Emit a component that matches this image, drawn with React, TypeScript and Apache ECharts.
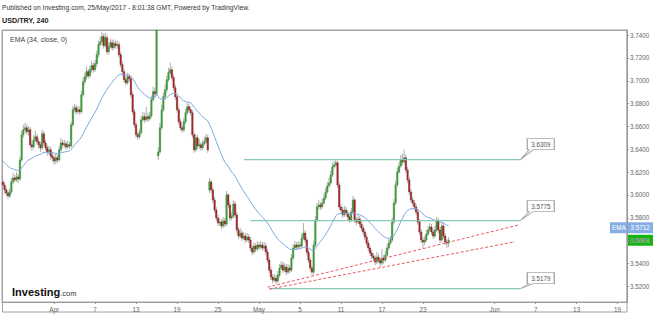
import React, { useEffect, useRef } from "react";
import * as echarts from "echarts";

// ---- Data (USD/TRY, 4h candles) ----
const opens = [
  3.6114, 3.6087, 3.6044, 3.6017, 3.5991, 3.6026, 3.6114, 3.6149, 3.6132, 3.6158,
  3.6140, 3.6307, 3.6527, 3.6571, 3.6588, 3.6553, 3.6571, 3.6439, 3.6421, 3.6483,
  3.6509, 3.6465, 3.6439, 3.6413, 3.6535, 3.6456, 3.6413, 3.6377, 3.6395, 3.6342,
  3.6325, 3.6298, 3.6325, 3.6307, 3.6395, 3.6456, 3.6439, 3.6448, 3.6421, 3.6439,
  3.6430, 3.6615, 3.6746, 3.6764, 3.6729, 3.6746, 3.6729, 3.6878, 3.6992, 3.7036,
  3.7080, 3.7045, 3.7097, 3.7133, 3.7097, 3.7150, 3.7229, 3.7317, 3.7343, 3.7387,
  3.7308, 3.7378, 3.7255, 3.7299, 3.7334, 3.7291, 3.7326, 3.7308, 3.7317, 3.7229,
  3.7141, 3.7080, 3.7010, 3.6983, 3.7036, 3.7018, 3.6878, 3.6729, 3.6615, 3.6527,
  3.6509, 3.6544, 3.6658, 3.6685, 3.6658, 3.6685, 3.6667, 3.6694, 3.6834, 3.6904,
  3.6887, 3.6342, 3.6377, 3.6588, 3.6746, 3.6860, 3.6922, 3.7010, 3.7071, 3.7097,
  3.7027, 3.6939, 3.6860, 3.6746, 3.6641, 3.6588, 3.6571, 3.6641, 3.6720, 3.6773,
  3.6746, 3.6720, 3.6527, 3.6395, 3.6500, 3.6430, 3.6439, 3.6413, 3.6448, 3.6465,
  3.6500, 3.6044, 3.6114, 3.6044, 3.5956, 3.5868, 3.5798, 3.5754, 3.5763, 3.5728,
  3.5772, 3.5745, 3.6000, 3.5912, 3.5798, 3.5816, 3.5921, 3.5825, 3.5693, 3.5640,
  3.5666, 3.5622, 3.5640, 3.5605, 3.5631, 3.5605, 3.5535, 3.5499, 3.5552, 3.5526,
  3.5561, 3.5543, 3.5561, 3.5535, 3.5552, 3.5499, 3.5429, 3.5341, 3.5280, 3.5254,
  3.5271, 3.5245, 3.5297, 3.5359, 3.5385, 3.5341, 3.5368, 3.5324, 3.5359, 3.5341,
  3.5447, 3.5535, 3.5561, 3.5543, 3.5561, 3.5552, 3.5622, 3.5666, 3.5605, 3.5499,
  3.5429, 3.5359, 3.5324, 3.5561, 3.5781, 3.5895, 3.5912, 3.5895, 3.5929, 3.5974,
  3.6026, 3.6079, 3.6105, 3.6175, 3.6246, 3.6263, 3.6281, 3.6087, 3.5895, 3.5868,
  3.5825, 3.5868, 3.5842, 3.5807, 3.5781, 3.5851, 3.5956, 3.5781, 3.5763, 3.5789,
  3.5745, 3.5710, 3.5675, 3.5631, 3.5578, 3.5535, 3.5491, 3.5464, 3.5447, 3.5412,
  3.5455, 3.5429, 3.5403, 3.5447, 3.5429, 3.5473, 3.5535, 3.5578, 3.5605, 3.5763,
  3.5929, 3.6087, 3.6202, 3.6254, 3.6307, 3.6290, 3.6325, 3.6219, 3.6132, 3.6026,
  3.5956, 3.5929, 3.5895, 3.5851, 3.5763, 3.5675, 3.5605, 3.5587, 3.5605, 3.5657,
  3.5693, 3.5719, 3.5675, 3.5640, 3.5693, 3.5772, 3.5693, 3.5605, 3.5728, 3.5640,
  3.5587, 3.5578,
];

const closes = [
  3.6087, 3.6044, 3.6017, 3.5991, 3.6026, 3.6114, 3.6149, 3.6132, 3.6158, 3.6140,
  3.6307, 3.6527, 3.6571, 3.6588, 3.6553, 3.6571, 3.6439, 3.6421, 3.6483, 3.6509,
  3.6465, 3.6439, 3.6413, 3.6535, 3.6456, 3.6413, 3.6377, 3.6395, 3.6342, 3.6325,
  3.6298, 3.6325, 3.6307, 3.6395, 3.6456, 3.6439, 3.6448, 3.6421, 3.6439, 3.6430,
  3.6615, 3.6746, 3.6764, 3.6729, 3.6746, 3.6729, 3.6878, 3.6992, 3.7036, 3.7080,
  3.7045, 3.7097, 3.7133, 3.7097, 3.7150, 3.7229, 3.7317, 3.7343, 3.7387, 3.7308,
  3.7378, 3.7255, 3.7299, 3.7334, 3.7291, 3.7326, 3.7308, 3.7317, 3.7229, 3.7141,
  3.7080, 3.7010, 3.6983, 3.7036, 3.7018, 3.6878, 3.6729, 3.6615, 3.6527, 3.6509,
  3.6544, 3.6658, 3.6685, 3.6658, 3.6685, 3.6667, 3.6694, 3.6834, 3.6904, 3.6887,
  3.7460, 3.6377, 3.6588, 3.6746, 3.6860, 3.6922, 3.7010, 3.7071, 3.7097, 3.7027,
  3.6939, 3.6860, 3.6746, 3.6641, 3.6588, 3.6571, 3.6641, 3.6720, 3.6773, 3.6746,
  3.6720, 3.6527, 3.6395, 3.6500, 3.6430, 3.6439, 3.6413, 3.6448, 3.6465, 3.6500,
  3.6395, 3.6114, 3.6044, 3.5956, 3.5868, 3.5798, 3.5754, 3.5763, 3.5728, 3.5772,
  3.5745, 3.6000, 3.5912, 3.5798, 3.5816, 3.5921, 3.5825, 3.5693, 3.5640, 3.5666,
  3.5622, 3.5640, 3.5605, 3.5631, 3.5605, 3.5535, 3.5499, 3.5552, 3.5526, 3.5561,
  3.5543, 3.5561, 3.5535, 3.5552, 3.5499, 3.5429, 3.5341, 3.5280, 3.5254, 3.5271,
  3.5245, 3.5297, 3.5359, 3.5385, 3.5341, 3.5368, 3.5324, 3.5359, 3.5341, 3.5447,
  3.5535, 3.5561, 3.5543, 3.5561, 3.5552, 3.5622, 3.5666, 3.5605, 3.5499, 3.5429,
  3.5359, 3.5324, 3.5561, 3.5781, 3.5895, 3.5912, 3.5895, 3.5929, 3.5974, 3.6026,
  3.6079, 3.6105, 3.6175, 3.6246, 3.6263, 3.6281, 3.6087, 3.5895, 3.5868, 3.5825,
  3.5868, 3.5842, 3.5807, 3.5781, 3.5851, 3.5956, 3.5781, 3.5763, 3.5789, 3.5745,
  3.5710, 3.5675, 3.5631, 3.5578, 3.5535, 3.5491, 3.5464, 3.5447, 3.5412, 3.5455,
  3.5429, 3.5403, 3.5447, 3.5429, 3.5473, 3.5535, 3.5578, 3.5605, 3.5763, 3.5929,
  3.6087, 3.6202, 3.6254, 3.6307, 3.6290, 3.6325, 3.6219, 3.6132, 3.6026, 3.5956,
  3.5929, 3.5895, 3.5851, 3.5763, 3.5675, 3.5605, 3.5587, 3.5605, 3.5657, 3.5693,
  3.5719, 3.5675, 3.5640, 3.5693, 3.5772, 3.5693, 3.5605, 3.5728, 3.5640, 3.5587,
  3.5578, 3.5603,
];

const highs = [
  3.6140, 3.6113, 3.6070, 3.6043, 3.6061, 3.6149, 3.6193, 3.6175, 3.6202, 3.6184,
  3.6333, 3.6562, 3.6615, 3.6632, 3.6615, 3.6606, 3.6597, 3.6474, 3.6527, 3.6562,
  3.6535, 3.6492, 3.6465, 3.6571, 3.6562, 3.6483, 3.6439, 3.6430, 3.6421, 3.6377,
  3.6351, 3.6360, 3.6351, 3.6430, 3.6500, 3.6483, 3.6483, 3.6474, 3.6474, 3.6465,
  3.6641, 3.6781, 3.6799, 3.6790, 3.6781, 3.6773, 3.6913, 3.7027, 3.7071, 3.7124,
  3.7106, 3.7133, 3.7176, 3.7159, 3.7185, 3.7264, 3.7352, 3.7387, 3.7431, 3.7413,
  3.7422, 3.7405, 3.7334, 3.7369, 3.7361, 3.7361, 3.7352, 3.7352, 3.7343, 3.7255,
  3.7167, 3.7106, 3.7036, 3.7071, 3.7062, 3.7045, 3.6904, 3.6755, 3.6641, 3.6553,
  3.6579, 3.6694, 3.6729, 3.6720, 3.6773, 3.6720, 3.6729, 3.6869, 3.6948, 3.6939,
  3.7800, 3.6421, 3.6632, 3.6790, 3.6895, 3.6966, 3.7045, 3.7115, 3.7159, 3.7124,
  3.7053, 3.6966, 3.6887, 3.6773, 3.6667, 3.6615, 3.6676, 3.6755, 3.6808, 3.6799,
  3.6773, 3.6746, 3.6553, 3.6535, 3.6527, 3.6492, 3.6465, 3.6483, 3.6509, 3.6535,
  3.6527, 3.6149, 3.6132, 3.6070, 3.5982, 3.5895, 3.5825, 3.5798, 3.5789, 3.5807,
  3.5798, 3.6035, 3.6017, 3.5938, 3.5851, 3.5956, 3.5947, 3.5851, 3.5719, 3.5710,
  3.5693, 3.5675, 3.5666, 3.5666, 3.5657, 3.5631, 3.5561, 3.5587, 3.5578, 3.5596,
  3.5587, 3.5596, 3.5587, 3.5587, 3.5578, 3.5526, 3.5455, 3.5368, 3.5306, 3.5306,
  3.5297, 3.5333, 3.5394, 3.5420, 3.5412, 3.5403, 3.5394, 3.5394, 3.5385, 3.5482,
  3.5569, 3.5596, 3.5587, 3.5596, 3.5587, 3.5657, 3.5754, 3.5693, 3.5631, 3.5526,
  3.5455, 3.5385, 3.5596, 3.5816, 3.5929, 3.5956, 3.5938, 3.5965, 3.6008, 3.6061,
  3.6114, 3.6149, 3.6211, 3.6281, 3.6298, 3.6316, 3.6298, 3.6114, 3.5921, 3.5895,
  3.5903, 3.5895, 3.5868, 3.5833, 3.5886, 3.5991, 3.5974, 3.5807, 3.5825, 3.5816,
  3.5772, 3.5737, 3.5701, 3.5657, 3.5605, 3.5561, 3.5517, 3.5491, 3.5473, 3.5499,
  3.5482, 3.5447, 3.5526, 3.5473, 3.5508, 3.5569, 3.5614, 3.5640, 3.5798, 3.5965,
  3.6123, 3.6237, 3.6290, 3.6351, 3.6360, 3.6395, 3.6351, 3.6246, 3.6158, 3.6052,
  3.5982, 3.5956, 3.5921, 3.5877, 3.5789, 3.5701, 3.5631, 3.5640, 3.5693, 3.5728,
  3.5754, 3.5745, 3.5701, 3.5728, 3.5807, 3.5798, 3.5719, 3.5763, 3.5754, 3.5666,
  3.5614, 3.5631,
];

const lows = [
  3.6061, 3.6009, 3.5991, 3.5965, 3.5973, 3.6008, 3.6096, 3.6114, 3.6114, 3.6105,
  3.6123, 3.6290, 3.6500, 3.6544, 3.6527, 3.6518, 3.6413, 3.6386, 3.6404, 3.6465,
  3.6439, 3.6404, 3.6377, 3.6395, 3.6430, 3.6386, 3.6342, 3.6351, 3.6307, 3.6290,
  3.6263, 3.6272, 3.6281, 3.6290, 3.6377, 3.6413, 3.6413, 3.6395, 3.6404, 3.6404,
  3.6413, 3.6597, 3.6720, 3.6702, 3.6711, 3.6702, 3.6711, 3.6860, 3.6966, 3.7010,
  3.7018, 3.7027, 3.7071, 3.7071, 3.7080, 3.7124, 3.7203, 3.7299, 3.7317, 3.7282,
  3.7291, 3.7229, 3.7229, 3.7282, 3.7264, 3.7273, 3.7282, 3.7282, 3.7203, 3.7115,
  3.7045, 3.6983, 3.6957, 3.6966, 3.6992, 3.6852, 3.6702, 3.6588, 3.6500, 3.6483,
  3.6492, 3.6527, 3.6641, 3.6632, 3.6641, 3.6641, 3.6650, 3.6676, 3.6816, 3.6852,
  3.6869, 3.6307, 3.6360, 3.6570, 3.6729, 3.6834, 3.6895, 3.6992, 3.7053, 3.7001,
  3.6913, 3.6834, 3.6720, 3.6615, 3.6562, 3.6544, 3.6553, 3.6623, 3.6702, 3.6720,
  3.6694, 3.6500, 3.6369, 3.6377, 3.6404, 3.6404, 3.6386, 3.6395, 3.6430, 3.6448,
  3.6369, 3.6017, 3.6017, 3.5929, 3.5842, 3.5772, 3.5728, 3.5728, 3.5701, 3.5710,
  3.5719, 3.5728, 3.5886, 3.5772, 3.5781, 3.5798, 3.5798, 3.5666, 3.5614, 3.5622,
  3.5596, 3.5605, 3.5578, 3.5587, 3.5578, 3.5508, 3.5473, 3.5482, 3.5499, 3.5508,
  3.5517, 3.5526, 3.5508, 3.5517, 3.5473, 3.5403, 3.5315, 3.5254, 3.5227, 3.5236,
  3.5218, 3.5227, 3.5280, 3.5341, 3.5315, 3.5324, 3.5297, 3.5306, 3.5315, 3.5324,
  3.5429, 3.5517, 3.5517, 3.5526, 3.5526, 3.5535, 3.5605, 3.5578, 3.5473, 3.5403,
  3.5333, 3.5297, 3.5306, 3.5543, 3.5763, 3.5868, 3.5868, 3.5877, 3.5912, 3.5956,
  3.6008, 3.6061, 3.6087, 3.6158, 3.6228, 3.6246, 3.6061, 3.5868, 3.5842, 3.5798,
  3.5807, 3.5816, 3.5781, 3.5754, 3.5763, 3.5833, 3.5754, 3.5737, 3.5745, 3.5719,
  3.5684, 3.5649, 3.5605, 3.5552, 3.5508, 3.5464, 3.5438, 3.5420, 3.5385, 3.5394,
  3.5403, 3.5368, 3.5385, 3.5394, 3.5412, 3.5455, 3.5517, 3.5561, 3.5587, 3.5745,
  3.5912, 3.6070, 3.6184, 3.6237, 3.6263, 3.6272, 3.6193, 3.6105, 3.6000, 3.5929,
  3.5903, 3.5868, 3.5825, 3.5737, 3.5649, 3.5578, 3.5535, 3.5561, 3.5587, 3.5640,
  3.5675, 3.5649, 3.5614, 3.5622, 3.5675, 3.5666, 3.5578, 3.5587, 3.5614, 3.5561,
  3.5535, 3.5543,
];

// EMA(34, close) — value of the EMA at the left edge of the chart
const emaPeriod = 34;
const emaSeed = 3.631;
const emaLabelValue = 3.5712;
const lastPriceValue = 3.5603;

// x axis: 4h slots (6 per trading day), with date labels at these slots
const slotCount = 366;
const tickIdx = [30, 54, 78, 102, 126, 150, 174, 198, 222, 246, 288, 312, 336, 360];
const tickText = ["Apr", "7", "13", "19", "25", "May", "5", "11", "17", "23", "Jun", "7", "13", "19"];

// y axis range
const yMin = 3.5062;
const yMax = 3.7445;

// drawn horizontal levels
const levels = [3.6309, 3.5775, 3.5179];
const levelStart = [141, 145, 156];
const levelEnd = 303;
const levelTail = [10, 9, 5];

// dashed trend lines [[slot, price], [slot, price]]
const trendUpper = [[155, 3.5192], [302, 3.5737]];
const trendLower = [[156, 3.5175], [300, 3.559]];

const FONT = "'Liberation Sans', Arial, sans-serif";

function emaOf(values: number[], period: number, seed: number) {
  const k = 2 / (period + 1);
  const out: number[] = [];
  let prev = seed;
  for (const v of values) {
    prev = prev + k * (v - prev);
    out.push(prev);
  }
  return out;
}

function callout(tail: number) {
  const h = 11 + tail;
  return {
    symbol: `path://M7,0 L34,0 L34,11 L13,11 L0,${h} L9,11 L7,11 Z`,
    size: [34, h],
    offset: [17, -h / 2],
    labelOffset: [3.5, 5.5 - h / 2],
  };
}

export default function App() {
  const ref = useRef<HTMLDivElement>(null);

  useEffect(() => {
    if (!ref.current) return;
    const chart = echarts.init(ref.current, undefined, { renderer: "svg" });

    const categories = Array.from({ length: slotCount }, (_, i) => String(i));
    const candleData = closes.map((c, i) => [i, opens[i], c, lows[i], highs[i]]);
    const ema = emaOf(closes, emaPeriod, emaSeed);
    const emaData = ema.map((v, i) => [i, v]);

    const levelSeries = levels.map((lv, i) => {
      const co = callout(levelTail[i]);
      return {
        type: "line",
        data: [[levelStart[i], lv], [levelEnd, lv]],
        showSymbol: false,
        symbol: "none",
        silent: true,
        z: 4,
        lineStyle: { color: "#86c9b9", width: 1.2 },
        markPoint: {
          silent: true,
          data: [{ coord: [levelEnd, lv] }],
          symbol: co.symbol,
          symbolSize: co.size,
          symbolOffset: co.offset,
          symbolKeepAspect: false,
          itemStyle: { color: "#ffffff", borderColor: "#a8a8a8", borderWidth: 1 },
          label: {
            show: true,
            position: "inside",
            offset: co.labelOffset,
            formatter: lv.toFixed(4),
            color: "#555",
            fontSize: 6.3,
            fontFamily: FONT,
          },
        },
      };
    });

    const trendSeries = [trendUpper, trendLower].map((t) => ({
      type: "line",
      data: t,
      showSymbol: false,
      symbol: "none",
      silent: true,
      z: 4,
      lineStyle: { color: "#e8595c", width: 1, type: [3, 2] },
    }));

    const option: any = {
      animation: false,
      backgroundColor: "#ffffff",
      grid: {
        left: 2,
        right: 27,
        top: 30,
        bottom: 12,
        show: true,
        borderColor: "#a9a9a9",
        borderWidth: 1,
      },
      xAxis: {
        type: "category",
        data: categories,
        boundaryGap: true,
        axisLine: { show: true, lineStyle: { color: "#999" } },
        axisTick: {
          show: true,
          alignWithLabel: true,
          interval: (i: number) => tickIdx.includes(i),
          length: 2,
          lineStyle: { color: "#999" },
        },
        axisLabel: {
          interval: (i: number) => tickIdx.includes(i),
          formatter: (_v: string, i: number) => {
            const k = tickIdx.indexOf(i);
            return k >= 0 ? tickText[k] : "";
          },
          fontSize: 6.3,
          color: "#666",
          margin: 4,
          fontFamily: FONT,
        },
        splitLine: { show: false },
      },
      yAxis: {
        type: "value",
        position: "right",
        min: yMin,
        max: yMax,
        splitNumber: 12,
        axisLine: { show: true, lineStyle: { color: "#999" } },
        axisTick: { show: true, length: 2, lineStyle: { color: "#999" } },
        splitLine: { show: false },
        axisLabel: {
          formatter: (v: number) => v.toFixed(4),
          fontSize: 6.3,
          color: "#666",
          margin: 3,
          showMinLabel: false,
          showMaxLabel: false,
          fontFamily: FONT,
        },
      },
      series: [
        {
          type: "custom",
          data: candleData,
          encode: { x: 0, y: [1, 2, 3, 4] },
          z: 2,
          silent: true,
          renderItem: (params: any, api: any) => {
            const idx = api.value(0);
            const o = api.value(1);
            const c = api.value(2);
            const l = api.value(3);
            const h = api.value(4);
            const cs = params.coordSys;
            const top = cs.y;
            const bot = cs.y + cs.height;
            const cl = (v: number) => Math.max(top, Math.min(bot, v));
            const pO = api.coord([idx, o]);
            const pC = api.coord([idx, c]);
            const yH = cl(api.coord([idx, h])[1]);
            const yL = cl(api.coord([idx, l])[1]);
            const cx = pO[0];
            const bw = api.size([1, 0])[0] * 0.8;
            const up = c >= o;
            const y1 = cl(Math.min(pO[1], pC[1]));
            const y2 = cl(Math.max(pO[1], pC[1]));
            return {
              type: "group",
              children: [
                {
                  type: "line",
                  shape: { x1: cx, y1: yH, x2: cx, y2: yL },
                  style: { stroke: "#a5a5a5", lineWidth: 0.9 },
                },
                {
                  type: "rect",
                  shape: { x: cx - bw / 2, y: y1, width: bw, height: Math.max(0.8, y2 - y1) },
                  style: {
                    fill: up ? "#3fa33f" : "#b3282b",
                    stroke: up ? "#2e8a2e" : "#7e1a1c",
                    lineWidth: 0.5,
                  },
                },
              ],
            };
          },
        },
        {
          type: "line",
          data: emaData,
          showSymbol: false,
          symbol: "none",
          silent: true,
          z: 3,
          lineStyle: { color: "#7ea6df", width: 1 },
        },
        ...levelSeries,
        ...trendSeries,
      ],
    };

    chart.setOption(option);

    const yE = chart.convertToPixel({ yAxisIndex: 0 }, emaLabelValue) as number;
    const yP = chart.convertToPixel({ yAxisIndex: 0 }, lastPriceValue) as number;

    chart.setOption({
      graphic: [
        {
          type: "rect",
          silent: true,
          shape: { x: 2.5, y: 30.5, width: 624.5, height: 281.5 },
          style: { fill: "none", stroke: "#a0a0a0", lineWidth: 1 },
        },
        {
          type: "text",
          x: 2,
          y: 3.5,
          style: {
            text: "Published on Investing.com, 25/May/2017 - 8:01:38 GMT, Powered by TradingView.",
            fontSize: 6.7,
            fontFamily: FONT,
            fill: "#333",
          },
        },
        {
          type: "text",
          x: 2,
          y: 16.5,
          style: {
            text: "USD/TRY, 240",
            fontSize: 7.2,
            fontWeight: "bold",
            fontFamily: FONT,
            fill: "#222",
          },
        },
        {
          type: "text",
          x: 10,
          y: 35.5,
          style: {
            text: "EMA (34, close, 0)",
            fontSize: 7,
            fontFamily: FONT,
            fill: "#444",
          },
        },
        {
          type: "text",
          x: 12,
          y: 286,
          style: {
            text: "{a|Investing}{b|.com}",
            rich: {
              a: { fontSize: 11, fontWeight: "bold", fontFamily: FONT, fill: "#111" },
              b: { fontSize: 7.5, fontFamily: FONT, fill: "#333", padding: [3, 0, 0, 0] },
            },
          },
        },
        {
          type: "rect",
          silent: true,
          shape: { x: 610, y: yE - 5.5, width: 43, height: 11 },
          style: { fill: "#86aee6" },
        },
        {
          type: "text",
          x: 612,
          y: yE,
          style: {
            text: "EMA   " + emaLabelValue.toFixed(4),
            fontSize: 6.3,
            fontFamily: FONT,
            fill: "#ffffff",
            verticalAlign: "middle",
          },
        },
        {
          type: "rect",
          silent: true,
          shape: { x: 628, y: yP - 5.5, width: 25, height: 11 },
          style: { fill: "#13b513" },
        },
        {
          type: "text",
          x: 630,
          y: yP,
          style: {
            text: lastPriceValue.toFixed(4),
            fontSize: 6.3,
            fontFamily: FONT,
            fill: "#ffffff",
            verticalAlign: "middle",
          },
        },
      ],
    });

    return () => chart.dispose();
  }, []);

  return (
    <div
      ref={ref}
      style={{ position: "fixed", left: 0, top: 0, width: 654, height: 314, background: "#fff" }}
    />
  );
}
